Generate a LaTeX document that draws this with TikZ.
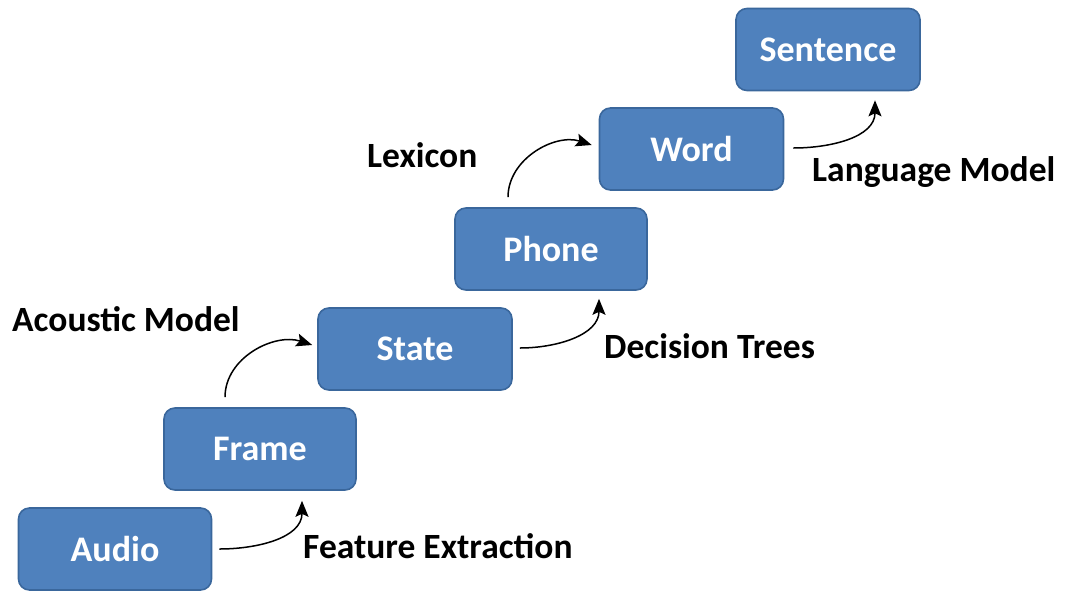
\documentclass[tikz,border=0pt]{standalone}
\usepackage{fontspec}
\setmainfont{Carlito}
\usetikzlibrary{arrows.meta}
\definecolor{boxfill}{HTML}{4F81BD}
\definecolor{boxline}{HTML}{3A679C}
\tikzset{
  stage/.style={draw=boxline, line width=1.6pt, fill=boxfill, rounded corners=11pt,
    minimum height=82pt, text=white, font=\fontsize{36}{40}\selectfont\bfseries, inner sep=0pt},
  tag/.style={anchor=west, inner sep=0pt, font=\fontsize{35.5}{40}\selectfont\bfseries},
  flow/.style={line width=1.5pt, -{Stealth[length=16pt,width=13pt,inset=3pt]}}
}
\begin{document}
\begin{tikzpicture}[x=1pt,y=1pt]
  \useasboundingbox (0,0) rectangle (1065,-590);
  % processing stages, bottom-left to top-right
  \node[stage, minimum width=193pt] (audio)    at (115,-549)   {Audio};
  \node[stage, minimum width=192pt] (frame)    at (260,-449)   {Frame};
  \node[stage, minimum width=194pt] (state)    at (415,-349)   {State};
  \node[stage, minimum width=192pt] (phone)    at (551,-249)   {Phone};
  \node[stage, minimum width=184pt] (word)     at (691.5,-149) {Word};
  \node[stage, minimum width=184pt] (sentence) at (828,-49.5)  {Sentence};
  % transition labels
  \node[tag] (fe)  at (303,-546) {Feature Extraction};
  \node[tag] (am)  at (12,-319)  {Acoustic Model};
  \node[tag] (dt)  at (604,-346) {Decision Trees};
  \node[tag] (lex) at (367,-155) {Lexicon};
  \node[tag] (lm)  at (812,-172) {Language Model};
  % transitions
  \draw[flow] ([xshift=7pt]audio.east) to[out=0,in=-90] ([shift={(42,-10)}]frame.south);
  \draw[flow] ([xshift=-35pt,yshift=10pt]frame.north) to[out=90,in=162] ([xshift=-5pt,yshift=4pt]state.west);
  \draw[flow] ([xshift=7pt,yshift=1pt]state.east) to[out=0,in=-90] ([shift={(48,-8)}]phone.south);
  \draw[flow] ([xshift=-43pt,yshift=10pt]phone.north) to[out=90,in=162] ([xshift=-7pt,yshift=4pt]word.west);
  \draw[flow] ([xshift=9pt,yshift=1pt]word.east) to[out=0,in=-90] ([shift={(47,-9)}]sentence.south);
\end{tikzpicture}
\end{document}
